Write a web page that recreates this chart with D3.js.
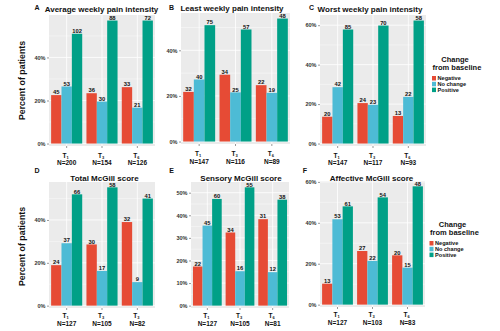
<!DOCTYPE html>
<html>
<head>
<meta charset="utf-8">
<script src="https://cdn.jsdelivr.net/npm/d3@7"></script>
<style>
	body { margin: 0; background: #fff; }
	svg { display: block; font-family: "Liberation Sans", Arial, sans-serif; }
</style>
</head>
<body>
<div id="chart"></div>
<script>
// data (counts per group, N per time point)
var panelLetters = ["A", "B", "C", "D", "E", "F"];
var panelTitles = [
	"Average weekly pain intensity",
	"Least weekly pain intensity",
	"Worst weekly pain intensity",
	"Total McGill score",
	"Sensory McGill score",
	"Affective McGill score"
];
var timeSubs = [["1", "3", "6"], ["1", "3", "6"], ["1", "3", "6"], ["1", "3", "3"], ["1", "3", "6"], ["1", "3", "6"]];
var nValues = [[200, 154, 126], [147, 116, 89], [147, 117, 93], [127, 105, 82], [127, 105, 81], [127, 103, 83]];
var negative = [[45, 36, 33], [32, 34, 22], [20, 24, 13], [24, 30, 32], [22, 34, 31], [13, 27, 20]];
var noChange = [[53, 30, 21], [40, 25, 19], [42, 23, 22], [37, 17, 9], [45, 16, 12], [53, 22, 15]];
var positive = [[102, 88, 72], [75, 57, 48], [85, 70, 58], [66, 58, 41], [60, 55, 38], [61, 54, 48]];
var seriesNames = ["Negative", "No change", "Positive"];
var yTickStep = [20, 20, 20, 20, 10, 20];

var colors = ["#E64B35", "#4DBBD5", "#00A087"];

// panel boxes on the page
var layout = [
	{ x0: 49, x1: 155, y0: 15, y1: 146, title: [101.5, 9], letter: [37, 10], cat: [155.5, 163] },
	{ x0: 181, x1: 290, y0: 13, y1: 144, title: [232, 8], letter: [171.5, 10], cat: [154, 162] },
	{ x0: 320, x1: 426, y0: 15, y1: 146, title: [370, 8.5], letter: [311.5, 10], cat: [155.5, 163] },
	{ x0: 49, x1: 155, y0: 182, y1: 308, title: [104.5, 178], letter: [37, 173], cat: [316, 323.5] },
	{ x0: 191, x1: 289, y0: 182, y1: 308, title: [241, 177.5], letter: [171.5, 173], cat: [316, 323.5] },
	{ x0: 320, x1: 425, y0: 181, y1: 307, title: [371.5, 177.5], letter: [305, 173], cat: [315, 322.5] }
];
var legends = [
	{ panel: 2, x: 432, y: 59.5 },
	{ panel: 5, x: 429.5, y: 224.5 }
];

var svg = d3.select("#chart").append("svg")
	.attr("width", 500)
	.attr("height", 331);

svg.append("rect").attr("width", 500).attr("height", 331).attr("fill", "#fff");

panelLetters.forEach(function (letter, p) {
	var L = layout[p];
	var rows = nValues[p].map(function (n, i) {
		return {
			cat: "T" + i,
			sub: timeSubs[p][i],
			n: n,
			values: [negative[p][i], noChange[p][i], positive[p][i]].map(function (c, s) {
				return { series: seriesNames[s], count: c, pct: c / n * 100 };
			})
		};
	});
	var maxPct = d3.max(rows, function (r) { return d3.max(r.values, function (v) { return v.pct; }); });

	var x = d3.scaleBand()
		.domain(rows.map(function (r) { return r.cat; }))
		.range([L.x0, L.x1])
		.paddingInner(0.12)
		.paddingOuter(0.06);
	var xs = d3.scaleBand()
		.domain(seriesNames)
		.range([0, x.bandwidth()]);
	var y = d3.scaleLinear()
		.domain([-0.02 * maxPct, 1.045 * maxPct])
		.range([L.y1, L.y0]);

	var g = svg.append("g");

	// grey panel
	g.append("rect")
		.attr("x", L.x0).attr("y", L.y0)
		.attr("width", L.x1 - L.x0).attr("height", L.y1 - L.y0)
		.attr("fill", "#EBEBEB");

	var step = yTickStep[p];
	var major = d3.range(0, y.domain()[1], step);
	var minor = d3.range(step / 2, y.domain()[1], step);

	g.selectAll(".minor").data(minor).enter().append("line")
		.attr("x1", L.x0).attr("x2", L.x1)
		.attr("y1", function (d) { return y(d); }).attr("y2", function (d) { return y(d); })
		.attr("stroke", "#fff").attr("stroke-width", 0.4);
	g.selectAll(".major").data(major).enter().append("line")
		.attr("x1", L.x0).attr("x2", L.x1)
		.attr("y1", function (d) { return y(d); }).attr("y2", function (d) { return y(d); })
		.attr("stroke", "#fff").attr("stroke-width", 0.8);
	g.selectAll(".vgrid").data(rows).enter().append("line")
		.attr("x1", function (d) { return x(d.cat) + x.bandwidth() / 2; })
		.attr("x2", function (d) { return x(d.cat) + x.bandwidth() / 2; })
		.attr("y1", L.y0).attr("y2", L.y1)
		.attr("stroke", "#fff").attr("stroke-width", 0.8);

	// bars
	var groups = g.selectAll(".grp").data(rows).enter().append("g")
		.attr("transform", function (d) { return "translate(" + x(d.cat) + ",0)"; });
	groups.selectAll("rect").data(function (d) { return d.values; }).enter().append("rect")
		.attr("x", function (d) { return xs(d.series); })
		.attr("width", xs.bandwidth())
		.attr("y", function (d) { return y(d.pct); })
		.attr("height", function (d) { return y(0) - y(d.pct); })
		.attr("fill", function (d, i) { return colors[i]; });
	groups.selectAll("text").data(function (d) { return d.values; }).enter().append("text")
		.attr("x", function (d) { return xs(d.series) + xs.bandwidth() / 2; })
		.attr("y", function (d) { return y(d.pct) - 0.8; })
		.attr("text-anchor", "middle")
		.style("font-size", "5.8px")
		.style("font-weight", "bold")
		.attr("fill", "#111")
		.text(function (d) { return d.count; });

	// y axis
	var yAxis = g.append("g")
		.attr("transform", "translate(" + L.x0 + ",0)")
		.call(d3.axisLeft(y).tickValues(major).tickSize(2).tickPadding(1.5)
			.tickFormat(function (d) { return d + "%"; }));
	yAxis.select(".domain").remove();
	yAxis.selectAll("line").attr("stroke", "#333").attr("stroke-width", 0.5);
	yAxis.selectAll("text")
		.style("font-size", "5.5px")
		.style("font-weight", "bold")
		.style("font-family", "'Liberation Sans', Arial, sans-serif")
		.attr("fill", "#333");

	// x axis: T with subscript and N below
	var xAxis = g.append("g")
		.attr("transform", "translate(0," + L.y1 + ")")
		.call(d3.axisBottom(x).tickSize(2).tickFormat(""));
	xAxis.select(".domain").remove();
	xAxis.selectAll("line").attr("stroke", "#333").attr("stroke-width", 0.5);

	var labels = g.selectAll(".xl").data(rows).enter().append("g");
	var tl = labels.append("text")
		.attr("x", function (d) { return x(d.cat) + x.bandwidth() / 2 - 1; })
		.attr("y", L.cat[0] + 2)
		.attr("text-anchor", "middle")
		.style("font-size", "6.5px")
		.style("font-weight", "bold")
		.attr("fill", "#111");
	tl.append("tspan").text("T");
	tl.append("tspan").attr("dy", 1.3).style("font-size", "4px").text(function (d) { return d.sub; });
	labels.append("text")
		.attr("x", function (d) { return x(d.cat) + x.bandwidth() / 2; })
		.attr("y", L.cat[1] + 2.3)
		.attr("text-anchor", "middle")
		.style("font-size", "6.5px")
		.style("font-weight", "bold")
		.attr("fill", "#111")
		.text(function (d) { return "N=" + d.n; });

	// title and letter
	g.append("text")
		.attr("x", L.title[0]).attr("y", L.title[1] + 3)
		.attr("text-anchor", "middle")
		.style("font-size", "8px")
		.style("font-weight", "bold")
		.attr("fill", "#111")
		.text(panelTitles[p]);
	g.append("text")
		.attr("x", L.letter[0]).attr("y", L.letter[1])
		.attr("text-anchor", "middle")
		.style("font-size", "7px")
		.style("font-weight", "bold")
		.attr("fill", "#111")
		.text(letter);
});

// y axis titles
[80.5, 246.5].forEach(function (cy) {
	svg.append("text")
		.attr("transform", "translate(25," + cy + ") rotate(-90)")
		.attr("text-anchor", "middle")
		.style("font-size", "8.8px")
		.style("font-weight", "bold")
		.attr("fill", "#111")
		.text("Percent of patients");
});

// legends
legends.forEach(function (lg) {
	var lgG = svg.append("g").attr("transform", "translate(" + lg.x + "," + lg.y + ")");
	lgG.append("text").attr("x", 23).attr("y", 2.5).attr("text-anchor", "middle")
		.style("font-size", "7.5px").style("font-weight", "bold").attr("fill", "#111").text("Change");
	lgG.append("text").attr("x", 25).attr("y", 10).attr("text-anchor", "middle")
		.style("font-size", "7.5px").style("font-weight", "bold").attr("fill", "#111").text("from baseline");
	var items = lgG.selectAll(".it").data(seriesNames).enter().append("g")
		.attr("transform", function (d, i) { return "translate(0," + (16.5 + i * 5.8) + ")"; });
	items.append("rect").attr("x", 0).attr("y", 0).attr("width", 4).attr("height", 4.5)
		.attr("fill", function (d, i) { return colors[i]; });
	items.append("text").attr("x", 5.5).attr("y", 4.2)
		.style("font-size", "5.6px").style("font-weight", "bold").attr("fill", "#111")
		.text(function (d) { return d; });
});
</script>
</body>
</html>
